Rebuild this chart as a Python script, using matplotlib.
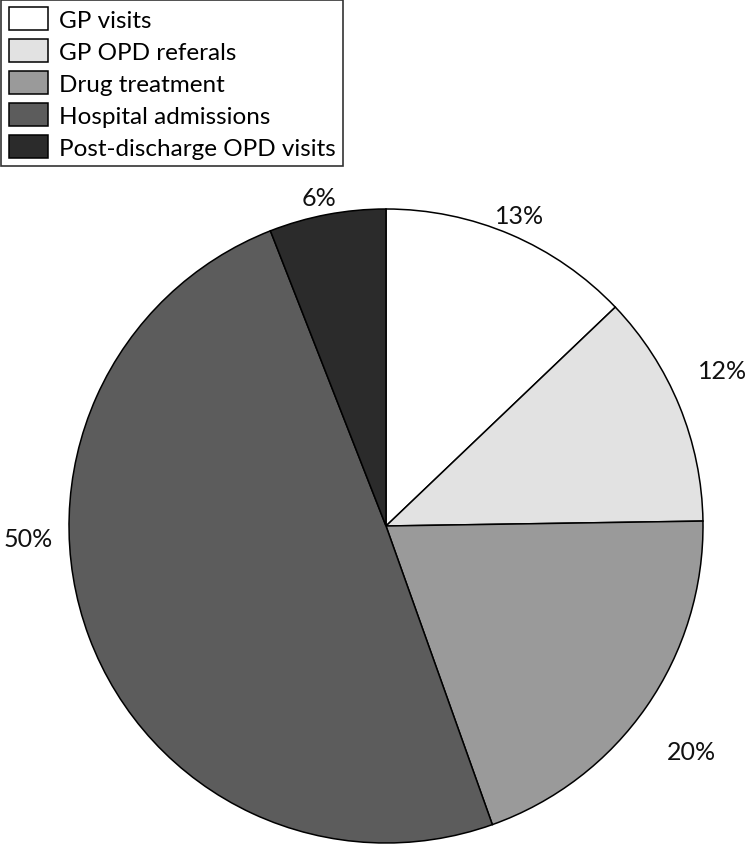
import matplotlib.pyplot as plt

labels = ["GP visits", "GP OPD referals", "Drug treatment",
          "Hospital admissions", "Post-discharge OPD visits"]
values = [13, 12, 20, 50, 6]
colors = ["#ffffff", "#e2e2e2", "#9a9a9a", "#5c5c5c", "#2b2b2b"]

# where each percentage sits, in units of the pie radius
label_pos = [(0.42, 0.98), (1.06, 0.49), (0.965, -0.71), (-1.13, -0.04), (-0.21, 1.035)]

plt.rcParams["font.family"] = ["Lato", "DejaVu Sans"]

W, H = 746, 853
fig = plt.figure(figsize=(W / 100, H / 100), dpi=100, facecolor="white")

cx, cy, r = 386, 527, 317
ax = fig.add_axes([(cx - r) / W, (H - cy - r) / H, 2 * r / W, 2 * r / H])

wedges, _ = ax.pie(
    values,
    colors=colors,
    startangle=90,
    counterclock=False,
    wedgeprops=dict(edgecolor="black", linewidth=1.1),
)
for v, (x, y) in zip(values, label_pos):
    ax.text(x, y, f"{v}%", ha="center", va="center", fontsize=18, color="#111111")

ax.set_xlim(-1, 1)
ax.set_ylim(-1, 1)
ax.set_aspect("equal")
ax.axis("off")

leg = fig.legend(
    wedges, labels,
    loc="upper left", bbox_to_anchor=(0.002, 0.999),
    bbox_transform=fig.transFigure, borderaxespad=0,
    fontsize=17.5, frameon=True, fancybox=False,
    handlelength=1.6, handleheight=1.1, handletextpad=0.45,
    labelspacing=0.33, borderpad=0.3,
)
leg.get_frame().set_edgecolor("black")
leg.get_frame().set_linewidth(1.2)

fig.savefig("out.png", dpi=100)
